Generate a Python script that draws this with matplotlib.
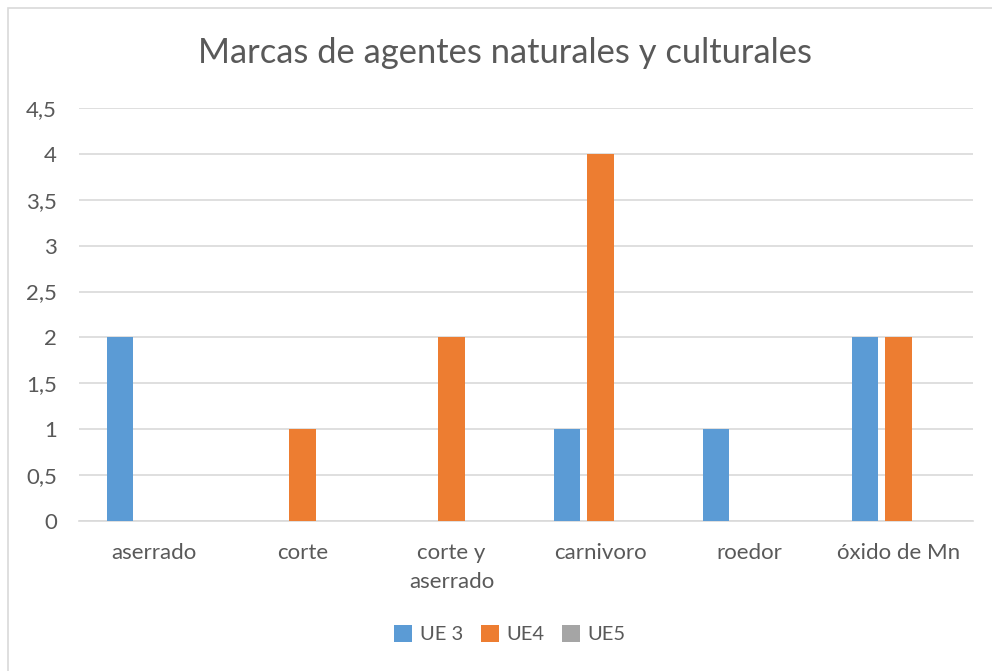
import matplotlib
matplotlib.use('Agg')
import matplotlib.pyplot as plt
import matplotlib.patches as mpatches
import numpy as np

plt.rcParams['font.family'] = ['Lato', 'DejaVu Sans']

categories = ['aserrado', 'corte', 'corte y\naserrado', 'carnivoro', 'roedor', 'óxido de Mn']
series_names = ['UE 3', 'UE4', 'UE5']
ue3 = [2, 0, 0, 1, 1, 2]
ue4 = [0, 1, 2, 4, 0, 2]
ue5 = [0, 0, 0, 0, 0, 0]
colors = ['#5b9bd5', '#ed7d31', '#a5a5a5']
yticks = [0, 0.5, 1, 1.5, 2, 2.5, 3, 3.5, 4, 4.5]

text_color = '#595959'
grid_color = '#d9d9d9'

fig = plt.figure(figsize=(9.92, 6.71), dpi=100)
fig.patch.set_facecolor('white')

# chart frame (left and top edges visible)
frame = mpatches.Rectangle((8 / 992, -0.1), 1.2, 1 - 8 / 671 + 0.1,
                           transform=fig.transFigure, fill=False,
                           edgecolor='#d9d9d9', linewidth=1.2)
fig.patches.append(frame)

ax = fig.add_axes([79 / 992, 150 / 671, (973 - 79) / 992, (521 - 108) / 671])

x = np.arange(len(categories))
step = 0.222
width = 0.175
for i, (vals, name, c) in enumerate(zip([ue3, ue4, ue5], series_names, colors)):
    ax.bar(x + (i - 1) * step, vals, width=width, color=c, label=name, zorder=3)

ax.set_xlim(-0.5, len(categories) - 0.5)
ax.set_ylim(0, 4.5)
ax.set_yticks(yticks)
ax.set_yticklabels([('%g' % v).replace('.', ',') for v in yticks])
ax.set_xticks(x)
ax.set_xticklabels(categories, linespacing=1.55)

ax.grid(axis='y', color=grid_color, linewidth=1.2, zorder=0)
for s in ['top', 'right', 'left']:
    ax.spines[s].set_visible(False)
ax.spines['bottom'].set_color(grid_color)
ax.spines['bottom'].set_linewidth(1.2)
ax.tick_params(axis='both', length=0, labelsize=16, colors=text_color)
ax.tick_params(axis='x', pad=16)
ax.tick_params(axis='y', pad=16)

fig.text(505 / 992, 1 - 53 / 671, 'Marcas de agentes naturales y culturales',
         ha='center', va='center', fontsize=24.8, color=text_color)

fig.legend(loc='center', bbox_to_anchor=(510 / 992, 1 - 634 / 671), ncol=3,
           frameon=False, fontsize=14.5, labelcolor=text_color,
           handlelength=0.9, handleheight=0.95, handletextpad=0.35,
           columnspacing=0.9)

fig.savefig('out.png', dpi=100, facecolor='white')
